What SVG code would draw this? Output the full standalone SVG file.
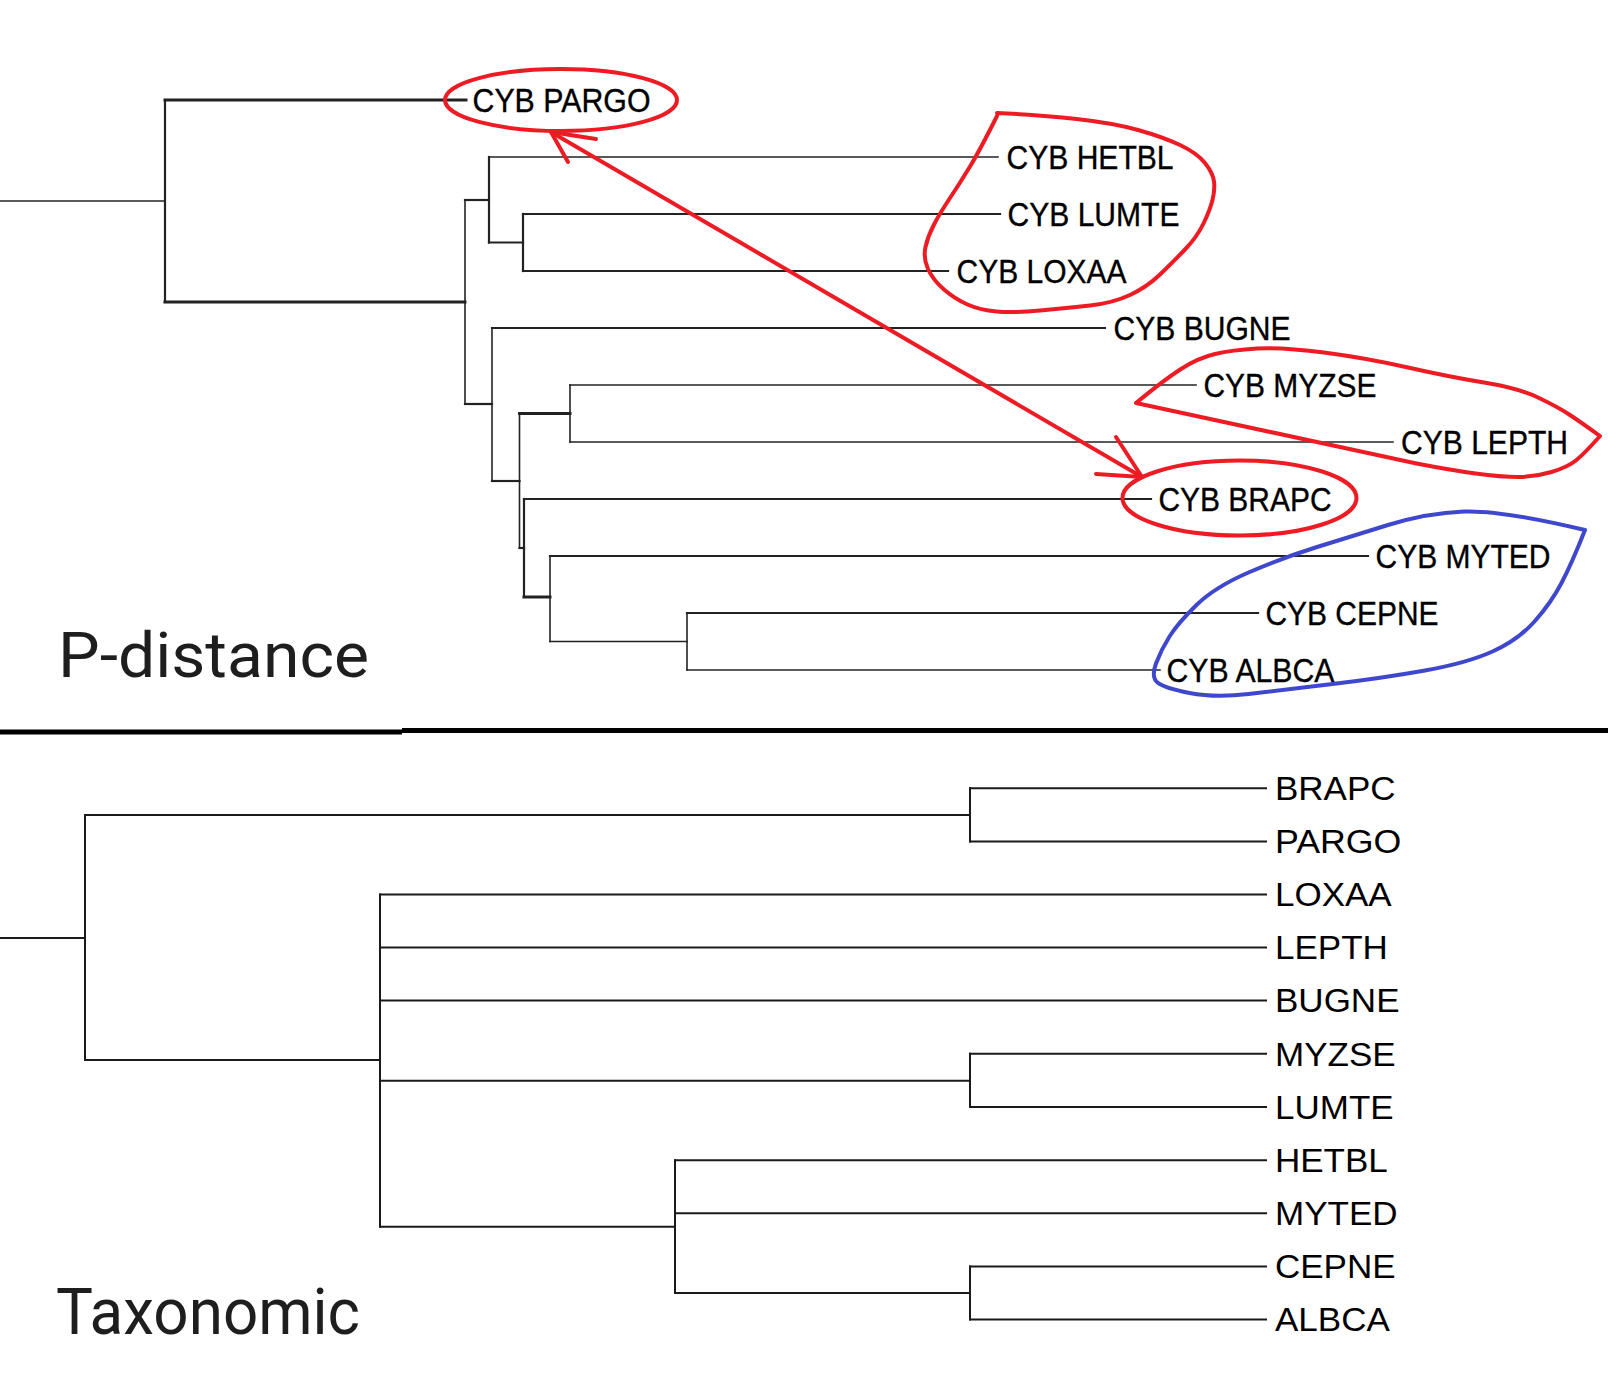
<svg xmlns="http://www.w3.org/2000/svg" width="1608" height="1392" viewBox="0 0 1608 1392">
<style>
.br{fill:none;stroke:#222;stroke-width:1.6;stroke-linecap:square}
.b2{stroke-width:2.2}
.b3{stroke-width:3}
.tb{fill:none;stroke:#1a1a1a;stroke-width:2;stroke-linecap:square}
.lt{font-family:"Liberation Sans",Arial,sans-serif;font-size:32.5px;fill:#000;stroke:#000;stroke-width:0.35}
.lb{font-family:"Liberation Sans",Arial,sans-serif;font-size:32.5px;fill:#000}
.ttl{font-family:Roboto,"DejaVu Sans",sans-serif;fill:#1e1e1e}
.red{fill:none;stroke:#ED1C24;stroke-width:4;stroke-linecap:round;stroke-linejoin:round}
.blue{fill:none;stroke:#3F48CC;stroke-width:4;stroke-linecap:round;stroke-linejoin:round}
</style>
<rect width="1608" height="1392" fill="#fff"/>

<g id="connectors">
 <g id="top-tree">
  <path class="br" d="M0,201 H165"/>
  <path class="br b2" d="M165,100 V302"/>
  <path class="br b3" d="M165,100 H466"/>
  <path class="br b3" d="M165,302 H465"/>
  <path class="br" d="M465,200 V404"/>
  <path class="br b2" d="M465,200 H489"/>
  <path class="br b2" d="M489,157 V242.5"/>
  <path class="br" d="M489,157 H998"/>
  <path class="br b2" d="M489,242.5 H523"/>
  <path class="br b2" d="M523,214 V271"/>
  <path class="br b2" d="M523,214 H1000"/>
  <path class="br b2" d="M523,271 H948"/>
  <path class="br b2" d="M465,404 H492"/>
  <path class="br" d="M492,328 V481"/>
  <path class="br b2" d="M492,328 H1105"/>
  <path class="br b2" d="M492,481 H519.5"/>
  <path class="br" d="M519.5,413.5 V548"/>
  <path class="br b3" d="M519.5,413.5 H570"/>
  <path class="br" d="M570,385 V442"/>
  <path class="br" d="M570,385 H1196"/>
  <path class="br" d="M570,442 H1393"/>
  <path class="br b2" d="M519.5,548 H524"/>
  <path class="br b2" d="M524,499 V597"/>
  <path class="br b2" d="M524,499 H1151"/>
  <path class="br b3" d="M524,597 H550"/>
  <path class="br" d="M550,556 V641.5"/>
  <path class="br b2" d="M550,556 H1368"/>
  <path class="br" d="M550,641.5 H687"/>
  <path class="br" d="M687,613 V670"/>
  <path class="br b2" d="M687,613 H1258"/>
  <path class="br" d="M687,670 H1160"/>
 </g>
 <g id="bottom-tree">
  <path class="tb" d="M0,938 H85"/>
  <path class="tb" d="M85,815 V1060"/>
  <path class="tb" d="M85,815 H970"/>
  <path class="tb" d="M970,788.3 V841.4"/>
  <path class="tb" d="M970,788.3 H1266"/>
  <path class="tb" d="M970,841.4 H1266"/>
  <path class="tb" d="M85,1060 H380"/>
  <path class="tb" d="M380,894.4 V1226.7"/>
  <path class="tb" d="M380,894.4 H1266"/>
  <path class="tb" d="M380,947.5 H1266"/>
  <path class="tb" d="M380,1000.6 H1266"/>
  <path class="tb" d="M380,1080.7 H970"/>
  <path class="tb" d="M970,1053.8 V1106.9"/>
  <path class="tb" d="M970,1053.8 H1266"/>
  <path class="tb" d="M970,1106.9 H1266"/>
  <path class="tb" d="M380,1226.7 H675"/>
  <path class="tb" d="M675,1160.2 V1293"/>
  <path class="tb" d="M675,1160.2 H1266"/>
  <path class="tb" d="M675,1213.3 H1266"/>
  <path class="tb" d="M675,1293 H970"/>
  <path class="tb" d="M970,1266.4 V1319.6"/>
  <path class="tb" d="M970,1266.4 H1266"/>
  <path class="tb" d="M970,1319.6 H1266"/>
 </g>
</g>

<g id="separator">
 <path d="M0,732 H402" stroke="#000" stroke-width="5" fill="none"/>
 <path d="M402,730.5 H1608" stroke="#000" stroke-width="5" fill="none"/>
</g>

<g id="top-labels">
 <g id="t-pargo"><text class="lt" x="472.5" y="111.5" textLength="178" lengthAdjust="spacingAndGlyphs">CYB PARGO</text></g>
 <g id="t-hetbl"><text class="lt" x="1006.5" y="168.5" textLength="167" lengthAdjust="spacingAndGlyphs">CYB HETBL</text></g>
 <g id="t-lumte"><text class="lt" x="1007.5" y="225.5" textLength="172" lengthAdjust="spacingAndGlyphs">CYB LUMTE</text></g>
 <g id="t-loxaa"><text class="lt" x="956.5" y="282.5" textLength="170" lengthAdjust="spacingAndGlyphs">CYB LOXAA</text></g>
 <g id="t-bugne"><text class="lt" x="1113.5" y="339.5" textLength="177" lengthAdjust="spacingAndGlyphs">CYB BUGNE</text></g>
 <g id="t-myzse"><text class="lt" x="1203.5" y="396.5" textLength="173" lengthAdjust="spacingAndGlyphs">CYB MYZSE</text></g>
 <g id="t-lepth"><text class="lt" x="1401" y="453.5" textLength="167" lengthAdjust="spacingAndGlyphs">CYB LEPTH</text></g>
 <g id="t-brapc"><text class="lt" x="1158.5" y="510.5" textLength="173" lengthAdjust="spacingAndGlyphs">CYB BRAPC</text></g>
 <g id="t-myted"><text class="lt" x="1375.5" y="567.5" textLength="175" lengthAdjust="spacingAndGlyphs">CYB MYTED</text></g>
 <g id="t-cepne"><text class="lt" x="1265.5" y="624.5" textLength="173" lengthAdjust="spacingAndGlyphs">CYB CEPNE</text></g>
 <g id="t-albca"><text class="lt" x="1166.5" y="681.5" textLength="168" lengthAdjust="spacingAndGlyphs">CYB ALBCA</text></g>
</g>

<g id="bottom-labels">
 <g id="b-brapc"><text class="lb" x="1275" y="800" textLength="120.6" lengthAdjust="spacingAndGlyphs">BRAPC</text></g>
 <g id="b-pargo"><text class="lb" x="1275" y="853.1" textLength="126.4" lengthAdjust="spacingAndGlyphs">PARGO</text></g>
 <g id="b-loxaa"><text class="lb" x="1275" y="906.1" textLength="116.7" lengthAdjust="spacingAndGlyphs">LOXAA</text></g>
 <g id="b-lepth"><text class="lb" x="1275" y="959.2" textLength="112.8" lengthAdjust="spacingAndGlyphs">LEPTH</text></g>
 <g id="b-bugne"><text class="lb" x="1275" y="1012.3" textLength="124.5" lengthAdjust="spacingAndGlyphs">BUGNE</text></g>
 <g id="b-myzse"><text class="lb" x="1275" y="1065.5" textLength="120.6" lengthAdjust="spacingAndGlyphs">MYZSE</text></g>
 <g id="b-lumte"><text class="lb" x="1275" y="1118.6" textLength="118.6" lengthAdjust="spacingAndGlyphs">LUMTE</text></g>
 <g id="b-hetbl"><text class="lb" x="1275" y="1171.9" textLength="112.8" lengthAdjust="spacingAndGlyphs">HETBL</text></g>
 <g id="b-myted"><text class="lb" x="1275" y="1225" textLength="122.5" lengthAdjust="spacingAndGlyphs">MYTED</text></g>
 <g id="b-cepne"><text class="lb" x="1275" y="1278.1" textLength="120.6" lengthAdjust="spacingAndGlyphs">CEPNE</text></g>
 <g id="b-albca"><text class="lb" x="1275" y="1331.3" textLength="114.8" lengthAdjust="spacingAndGlyphs">ALBCA</text></g>
</g>

<g id="titles">
 <text id="title-pdistance" class="ttl" x="58" y="677" font-size="63" textLength="311" lengthAdjust="spacingAndGlyphs">P-distance</text>
 <text id="title-taxonomic" class="ttl" x="56" y="1334" font-size="64" textLength="304" lengthAdjust="spacingAndGlyphs">Taxonomic</text>
</g>

<g id="annotations">
 <ellipse id="circle-pargo" class="red" cx="561" cy="100" rx="116" ry="31"/>
 <ellipse id="circle-brapc" class="red" cx="1239.5" cy="498" rx="117" ry="37.5"/>
 <path id="blob-hetbl" class="red" d="M997,113 Q1040,115 1076.5,119 Q1113,123 1138,130 Q1163,137 1180,145 Q1197,153 1205,163 Q1213,173 1214,181.5 Q1215,190 1212.5,200 Q1210,210 1203.5,223.5 Q1197,237 1185,249.5 Q1173,262 1160,274.5 Q1147,287 1130,295 Q1113,303 1090,305.5 Q1067,308 1040,310.5 Q1013,313 996.5,311.5 Q980,310 967.5,304.5 Q955,299 944,289.5 Q933,280 928,269 Q923,258 925.5,247 Q928,236 934,224.5 Q940,213 950,198 Q960,183 970,166.5 Q980,150 997,116"/>
 <path id="blob-myzse" class="red" d="M1136,403 Q1164,380 1181,369 Q1198,358 1215,354 Q1232,350 1257,348.5 Q1282,347 1324,352.5 Q1366,358 1408,367.5 Q1450,377 1484,382.5 Q1518,388 1538,397.5 Q1558,407 1570,415 Q1582,423 1600,436 Q1585,453 1576.5,460 Q1568,467 1551.5,472 Q1535,477 1518,477 Q1501,477 1475.5,473.5 Q1450,470 1416.5,463.5 L1136,403 Z"/>
 <path id="blob-myted" class="blue" d="M1585,530 Q1501,510 1464,511.5 Q1427,513 1388,525 Q1349,537 1315.5,547.5 Q1282,558 1248.5,572.5 Q1215,587 1196.5,605 Q1178,623 1169.5,636.5 Q1161,650 1156,663.5 Q1151,677 1157.5,682.5 Q1164,688 1189.5,693 Q1215,698 1248.5,694 Q1282,690 1332.5,684 Q1383,678 1425,670.5 Q1467,663 1492.5,651.5 Q1518,640 1534.5,621.5 Q1551,603 1561.5,583 Q1572,563 1585,530"/>
 <g id="arrow">
  <path class="red" d="M551,132 L1142,477"/>
  <path class="red" d="M596,139 L551,132 L568,162"/>
  <path class="red" d="M1096,474 L1142,477 L1116,437"/>
 </g>
</g>
</svg>
